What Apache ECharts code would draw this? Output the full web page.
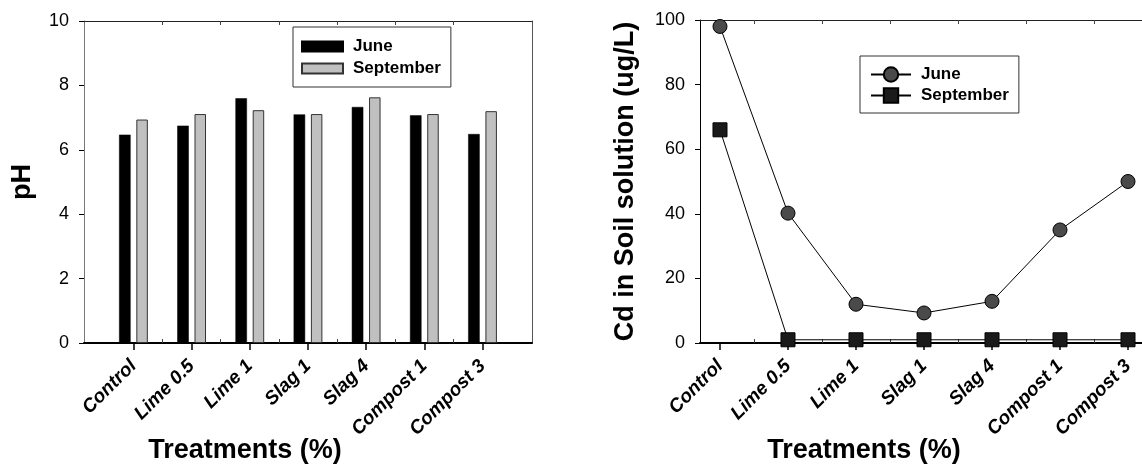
<!DOCTYPE html>
<html>
<head>
<meta charset="utf-8">
<script src="https://cdn.jsdelivr.net/npm/echarts@6/dist/echarts.min.js"></script>
<style>
html,body{margin:0;padding:0;background:#fff;}
#chart{width:1142px;height:464px;}
</style>
</head>
<body>
<div id="chart"></div>
<script>
const categories = ['Control', 'Lime 0.5', 'Lime 1', 'Slag 1', 'Slag 4', 'Compost 1', 'Compost 3'];
const phJune = [6.47, 6.75, 7.60, 7.10, 7.33, 7.07, 6.49];
const phSeptember = [6.94, 7.11, 7.23, 7.11, 7.63, 7.11, 7.20];
const cdJune = [98, 40.2, 12.0, 9.3, 12.9, 35.0, 50.0];
const cdSeptember = [66, 1, 1, 1, 1, 1, 1];
const phTicks = [0, 2, 4, 6, 8, 10];
const cdTicks = [0, 20, 40, 60, 80, 100];

const FONT = '"Liberation Sans", Arial, sans-serif';
const idx = categories.map((_, i) => i);
const mids = categories.slice(1).map((_, i) => i + 0.5);
const pairs = arr => arr.map((v, i) => [i, v]);

function xAxesFor(gridIndex, min, max, namePadRight) {
  return [
    {
      type: 'value', gridIndex, position: 'bottom', min, max,
      axisLine: { show: true, onZero: false, lineStyle: { color: '#000', width: 2 } },
      axisTick: { show: true, inside: false, length: 7, customValues: idx, lineStyle: { color: '#000', width: 1.5 } },
      axisLabel: {
        show: true, customValues: idx, rotate: 45, margin: 20,
        formatter: v => categories[Math.round(v)],
        fontFamily: FONT, fontSize: 19, fontWeight: 'bold', fontStyle: 'italic', color: '#000',
        padding: [0, 0, 0, 4]
      },
      splitLine: { show: false },
      name: 'Treatments (%)', nameLocation: 'middle', nameGap: 94, nameMoveOverlap: false,
      nameTextStyle: { fontFamily: FONT, fontSize: 27, fontWeight: 'bold', color: '#000', padding: [0, namePadRight, 0, 0] }
    },
    {
      type: 'value', gridIndex, position: 'bottom', min, max,
      axisLine: { show: false },
      axisTick: { show: true, inside: true, length: 4, customValues: mids, lineStyle: { color: '#444', width: 1 } },
      axisLabel: { show: false }, splitLine: { show: false }
    },
    {
      type: 'value', gridIndex, position: 'top', min, max,
      axisLine: { show: true, onZero: false, lineStyle: { color: '#222', width: 1 } },
      axisTick: { show: true, inside: true, length: 4, customValues: mids, lineStyle: { color: '#444', width: 1 } },
      axisLabel: { show: false }, splitLine: { show: false }
    }
  ];
}

function yAxesFor(gridIndex, ticks, name, nameGap, lineColor) {
  return [
    {
      type: 'value', gridIndex, position: 'left',
      min: ticks[0], max: ticks[ticks.length - 1], interval: ticks[1] - ticks[0],
      axisLine: { show: true, onZero: false, lineStyle: { color: lineColor, width: 1 } },
      axisTick: { show: true, inside: false, length: 5, lineStyle: { color: '#000', width: 1 } },
      axisLabel: { show: true, margin: 15, fontFamily: FONT, fontSize: 18, color: '#000' },
      splitLine: { show: false },
      name, nameLocation: 'middle', nameGap, nameMoveOverlap: false,
      nameTextStyle: { fontFamily: FONT, fontSize: 27, fontWeight: 'bold', color: '#000' }
    },
    {
      type: 'value', gridIndex, position: 'right',
      min: ticks[0], max: ticks[ticks.length - 1], interval: ticks[1] - ticks[0],
      axisLine: { show: true, onZero: false, lineStyle: { color: '#555', width: 1 } },
      axisTick: { show: false }, axisLabel: { show: false }, splitLine: { show: false }
    }
  ];
}

const legendText = { fontFamily: FONT, fontSize: 17, fontWeight: 'bold', color: '#000', lineHeight: 17, padding: [0, 0, 0, 5] };
const stripPrefix = n => n.replace(/^\S+ /, '');

const option = {
  animation: false,
  backgroundColor: '#fff',
  grid: [
    { left: 84, top: 21, width: 448, height: 322, containLabel: false, outerBoundsMode: 'none' },
    { left: 700, top: 20, width: 448, height: 323, containLabel: false, outerBoundsMode: 'none' }
  ],
  xAxis: [
    ...xAxesFor(0, -0.85, 6.85, 126),
    ...xAxesFor(1, -0.294, 6.294, 120)
  ],
  yAxis: [
    ...yAxesFor(0, phTicks, 'pH', 48, '#777'),
    ...yAxesFor(1, cdTicks, 'Cd in Soil solution (ug/L)', 61, '#000')
  ],
  legend: [
    {
      orient: 'vertical', left: 293, top: 27,
      padding: [11, 10, 10, 8], borderColor: '#333', borderWidth: 1,
      itemWidth: 41, itemHeight: 10, itemGap: 5, icon: 'rect',
      data: ['pH June', 'pH September'],
      formatter: stripPrefix, textStyle: legendText, selectedMode: false
    },
    {
      orient: 'vertical', left: 860, top: 56,
      padding: [10, 10, 9, 10], borderColor: '#333', borderWidth: 1,
      itemWidth: 40, itemHeight: 18, itemGap: 4,
      data: ['Cd June', 'Cd September'],
      formatter: stripPrefix, textStyle: legendText, selectedMode: false
    }
  ],
  series: [
    {
      name: 'pH June', type: 'bar', xAxisIndex: 0, yAxisIndex: 0,
      data: pairs(phJune), barWidth: 11.5, barGap: '50%',
      itemStyle: { color: '#000', borderColor: '#000', borderWidth: 0.5 }
    },
    {
      name: 'pH September', type: 'bar', xAxisIndex: 0, yAxisIndex: 0,
      data: pairs(phSeptember), barWidth: 11.5, barGap: '50%',
      itemStyle: { color: '#c0c0c0', borderColor: '#333', borderWidth: 1 }
    },
    {
      name: 'Cd June', type: 'line', xAxisIndex: 3, yAxisIndex: 2,
      data: pairs(cdJune), symbol: 'circle', symbolSize: 14,
      itemStyle: { color: '#4a4a4a', borderColor: '#000', borderWidth: 1 },
      lineStyle: { color: '#000', width: 1 }
    },
    {
      name: 'Cd September', type: 'line', xAxisIndex: 3, yAxisIndex: 2,
      data: pairs(cdSeptember), symbol: 'rect', symbolSize: 14,
      itemStyle: { color: '#1a1a1a', borderColor: '#000', borderWidth: 1 },
      lineStyle: { color: '#000', width: 1 }
    }
  ]
};

const chart = echarts.init(document.getElementById('chart'), null, { renderer: 'canvas' });
chart.setOption(option);
</script>
</body>
</html>
